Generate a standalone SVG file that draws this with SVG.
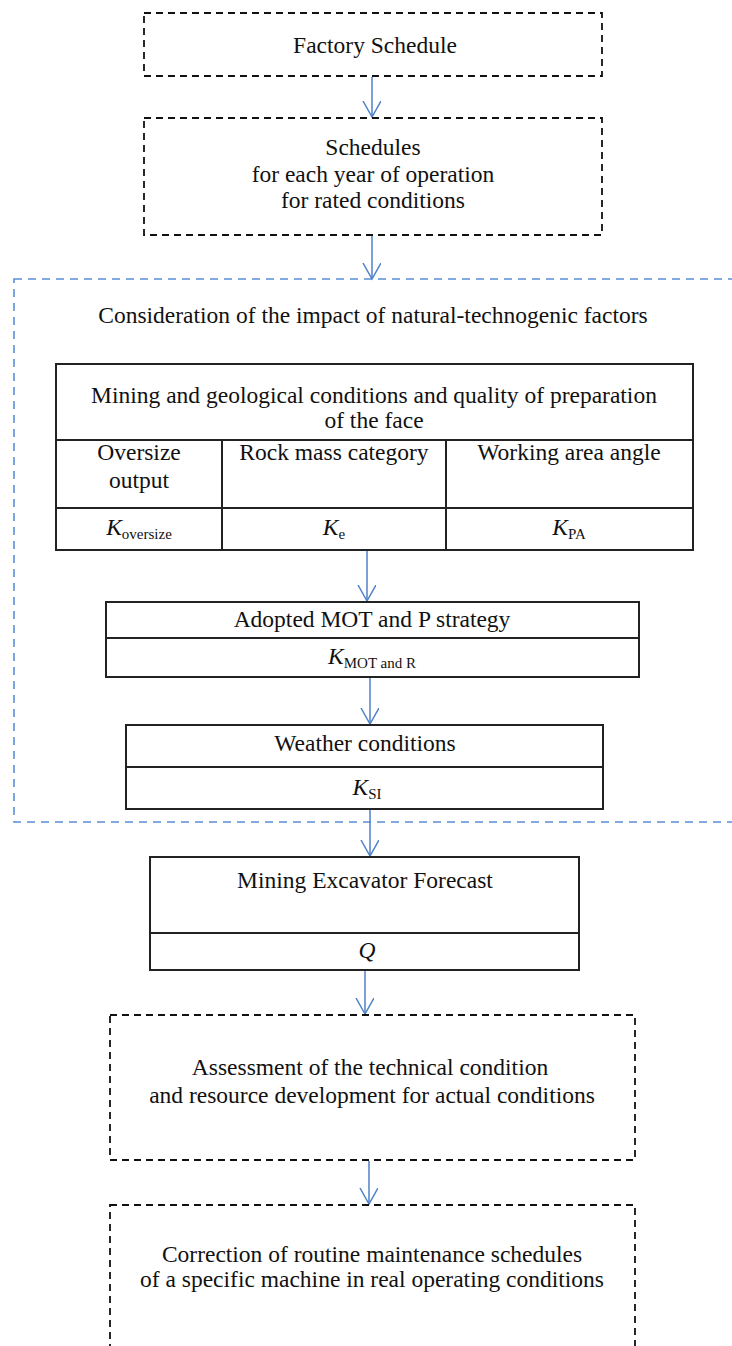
<svg xmlns="http://www.w3.org/2000/svg" width="732" height="1346" viewBox="0 0 732 1346">
<style>
text{font-family:"Liberation Serif","Times New Roman",serif;font-size:23.5px;fill:#111;text-anchor:middle}
.it{font-style:italic}
.sub{font-size:15px;font-style:normal}
.dash{fill:none;stroke:#111;stroke-width:1.8;stroke-dasharray:7 5}
.solid{fill:#fff;stroke:#222;stroke-width:2}
.ln{stroke:#222;stroke-width:2}
.blue{fill:none;stroke:#5b8ed6;stroke-width:1.6;stroke-dasharray:8 6}
.arr{stroke:#4f81c7;stroke-width:1.5;fill:none;marker-end:url(#ah)}
</style>
<defs>
<marker id="ah" markerUnits="userSpaceOnUse" markerWidth="20" markerHeight="22" refX="16" refY="9" orient="auto">
<path d="M0,0 L16,9 L0,18" fill="none" stroke="#4f81c7" stroke-width="1.5"/>
</marker>
</defs>
<rect x="0" y="0" width="732" height="1346" fill="#fff"/>

<g id="factors-frame">
<rect class="blue" x="14" y="279" width="740" height="543"/>
<text x="373" y="323">Consideration of the impact of natural-technogenic factors</text>
</g>

<g id="connectors">
<line class="arr" x1="372" y1="77" x2="372" y2="117"/>
<line class="arr" x1="372" y1="236" x2="372" y2="279"/>
<line class="arr" x1="367" y1="551" x2="367" y2="601"/>
<line class="arr" x1="370" y1="678" x2="370" y2="724"/>
<line class="arr" x1="370" y1="810" x2="370" y2="856"/>
<line class="arr" x1="365" y1="971" x2="365" y2="1014"/>
<line class="arr" x1="369" y1="1161" x2="369" y2="1204"/>
</g>

<g id="factory-schedule">
<rect class="dash" x="144" y="13" width="458" height="63"/>
<text x="375" y="53">Factory Schedule</text>
</g>

<g id="schedules">
<rect class="dash" x="144" y="118" width="458" height="117"/>
<text x="373" y="155">Schedules</text>
<text x="373" y="182">for each year of operation</text>
<text x="373" y="208">for rated conditions</text>
</g>

<g id="mining-geology-table">
<rect class="solid" x="56" y="364" width="637" height="186"/>
<line class="ln" x1="56" y1="440" x2="693" y2="440"/>
<line class="ln" x1="56" y1="508" x2="693" y2="508"/>
<line class="ln" x1="222" y1="440" x2="222" y2="550"/>
<line class="ln" x1="446" y1="440" x2="446" y2="550"/>
<text x="374" y="403">Mining and geological conditions and quality of preparation</text>
<text x="374" y="428">of the face</text>
<text x="139" y="460">Oversize</text>
<text x="139" y="488">output</text>
<text x="334" y="460">Rock mass category</text>
<text x="569" y="460">Working area angle</text>
<text x="139" y="535"><tspan class="it">K</tspan><tspan class="sub" dy="4">oversize</tspan></text>
<text x="334" y="535"><tspan class="it">K</tspan><tspan class="sub" dy="4">e</tspan></text>
<text x="569" y="535"><tspan class="it">K</tspan><tspan class="sub" dy="4">PA</tspan></text>
</g>

<g id="mot-strategy">
<rect class="solid" x="106" y="602" width="533" height="75"/>
<line class="ln" x1="106" y1="638" x2="639" y2="638"/>
<text x="372" y="627">Adopted MOT and P strategy</text>
<text x="372" y="664"><tspan class="it">K</tspan><tspan class="sub" dy="4">MOT and R</tspan></text>
</g>

<g id="weather">
<rect class="solid" x="126" y="725" width="477" height="84"/>
<line class="ln" x1="126" y1="767" x2="603" y2="767"/>
<text x="365" y="751">Weather conditions</text>
<text x="367" y="795"><tspan class="it">K</tspan><tspan class="sub" dy="4">SI</tspan></text>
</g>

<g id="forecast">
<rect class="solid" x="150" y="857" width="429" height="113"/>
<line class="ln" x1="150" y1="933" x2="579" y2="933"/>
<text x="365" y="888">Mining Excavator Forecast</text>
<text class="it" x="367" y="958">Q</text>
</g>

<g id="assessment">
<rect class="dash" x="110" y="1015" width="525" height="145"/>
<text x="370" y="1075">Assessment of the technical condition</text>
<text x="372" y="1103">and resource development for actual conditions</text>
</g>

<g id="correction">
<rect class="dash" x="110" y="1205" width="525" height="160"/>
<text x="372" y="1262">Correction of routine maintenance schedules</text>
<text x="372" y="1287">of a specific machine in real operating conditions</text>
</g>
</svg>
